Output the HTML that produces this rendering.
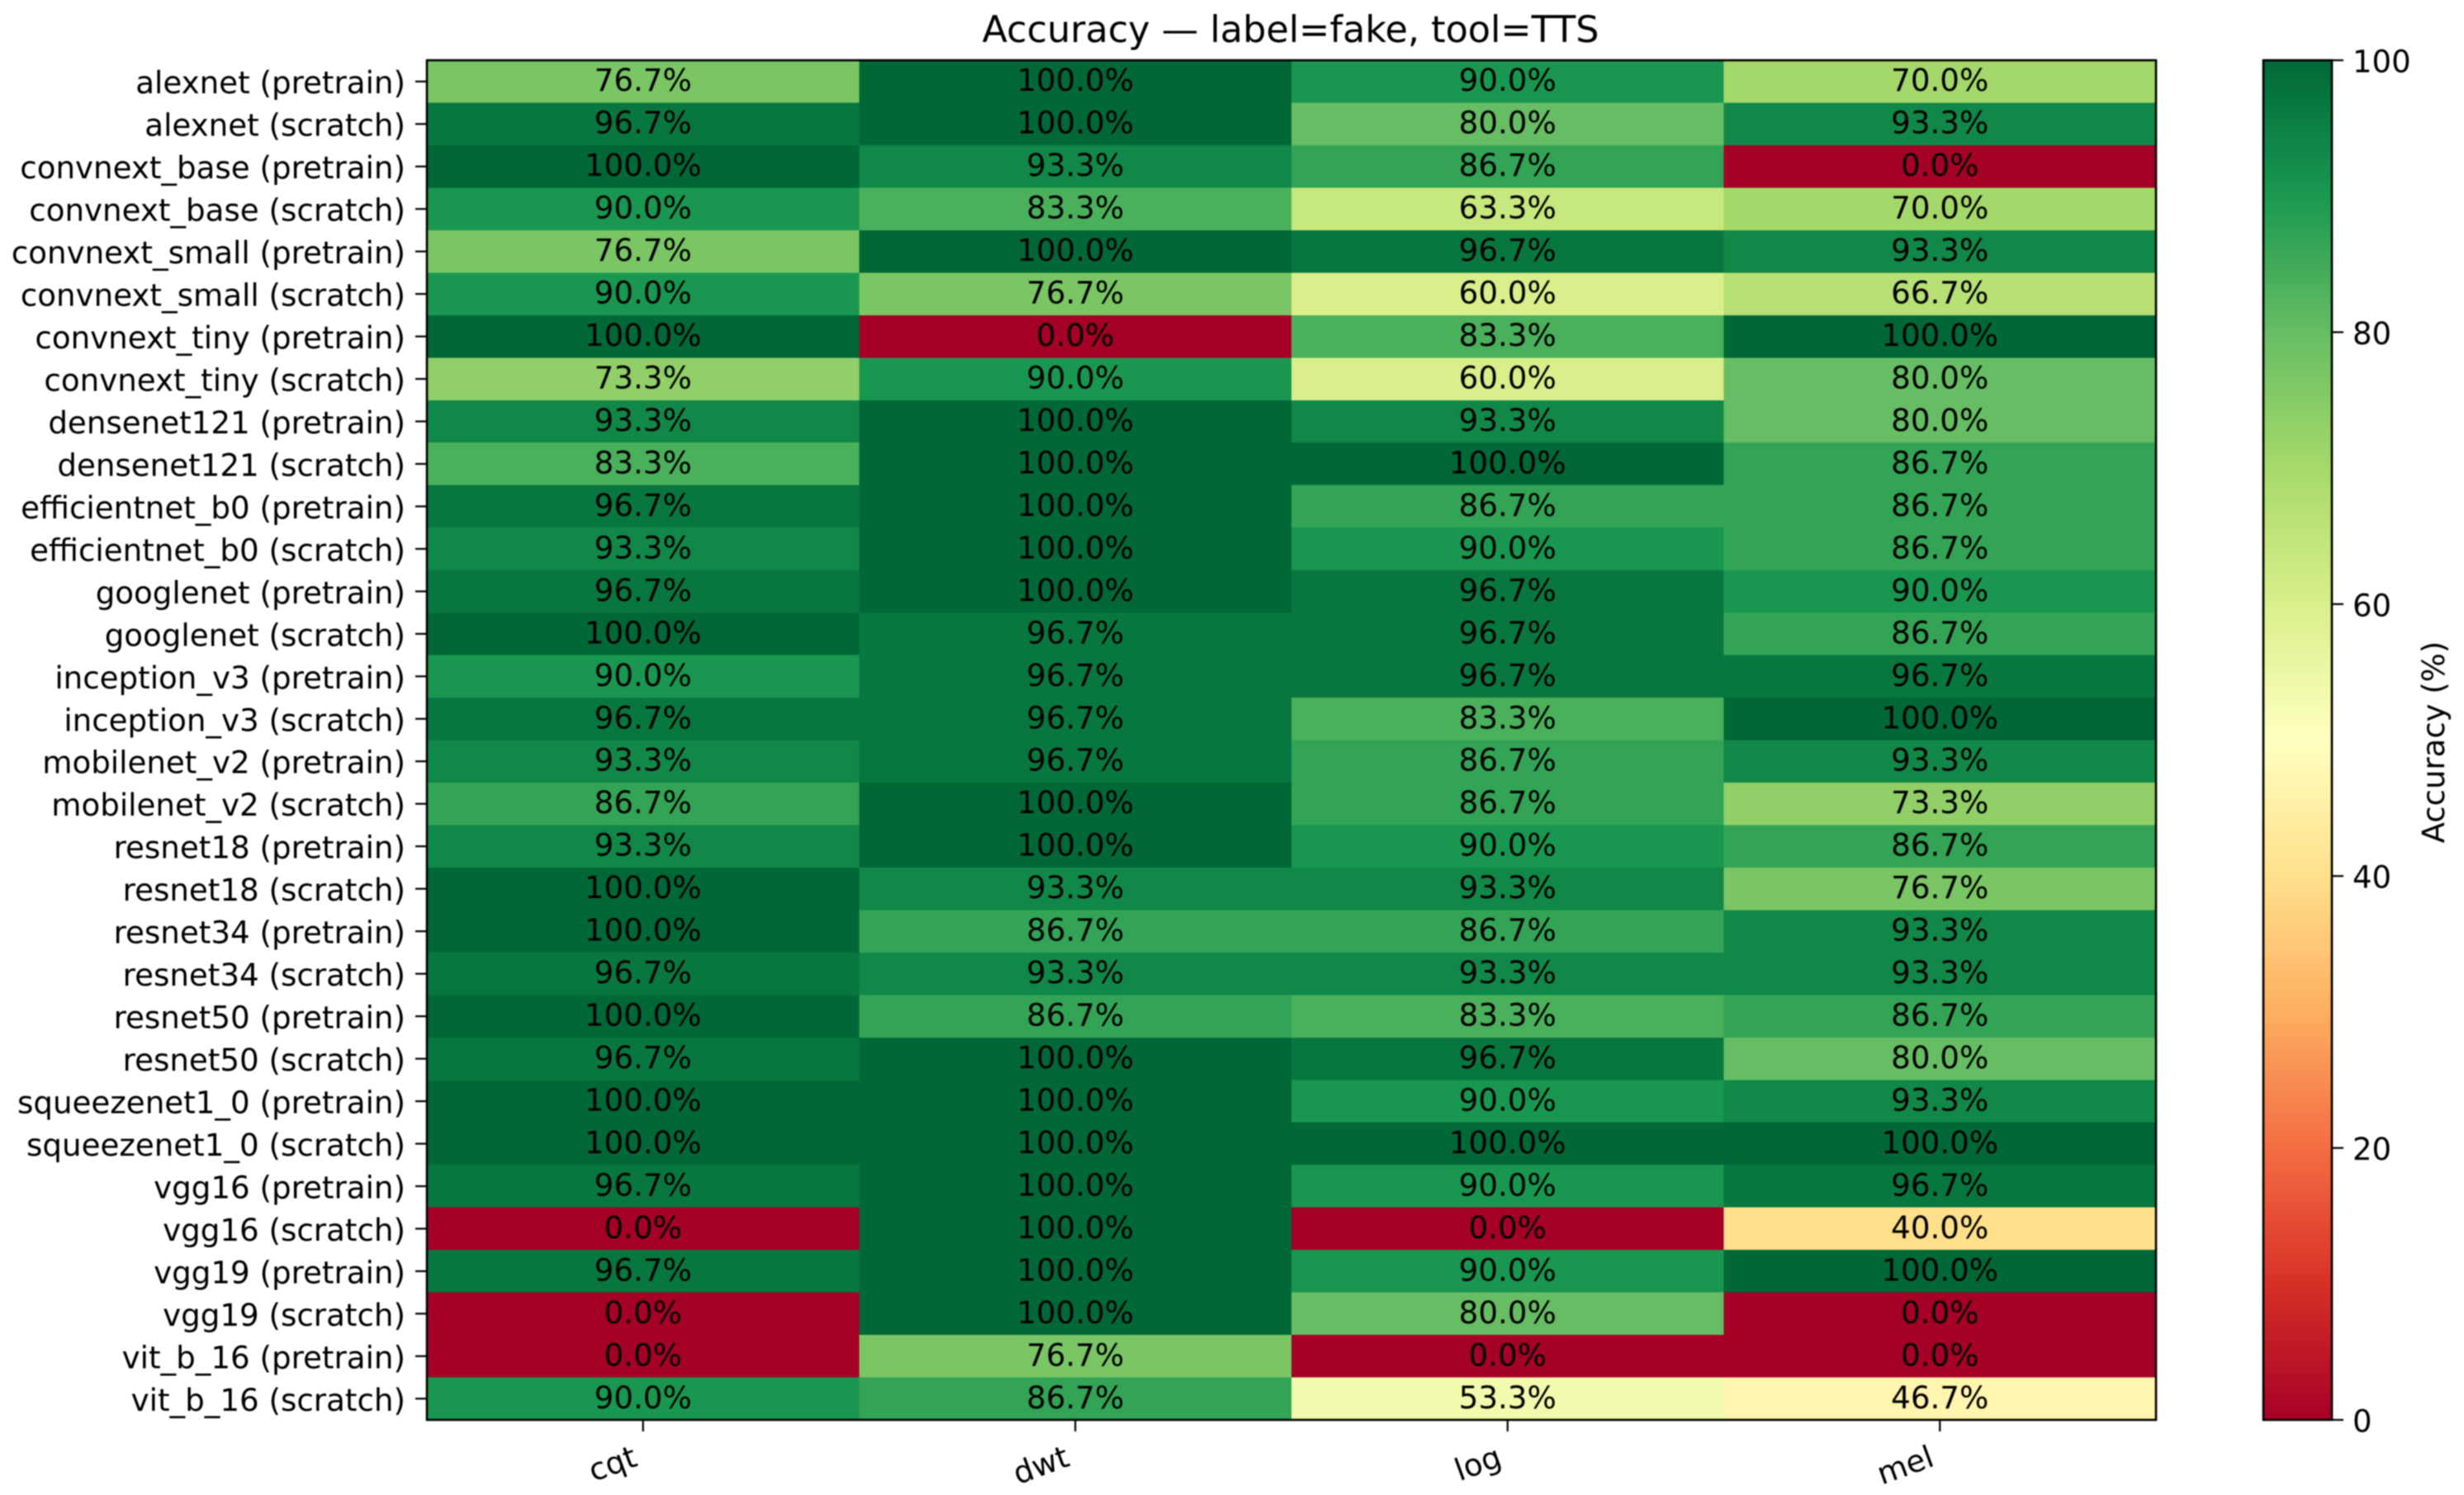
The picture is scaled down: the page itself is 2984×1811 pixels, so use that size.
<!DOCTYPE html>
<html lang="en">
<head>
<meta charset="utf-8">
<title>Accuracy — label=fake, tool=TTS</title>
<style>
html,body{margin:0;padding:0;background:#fff;}
#chart{display:block;filter:blur(0.9px);}
text{font-family:"DejaVu Sans","Liberation Sans",sans-serif;fill:#000;}
</style>
</head>
<body>
<svg id="chart" xmlns="http://www.w3.org/2000/svg" width="2984" height="1811" viewBox="0 0 2984 1811">
  <rect x="0" y="0" width="2984" height="1811" fill="#fff"></rect>
  <text x="1563" y="51" font-size="44.5" text-anchor="middle">Accuracy — label=fake, tool=TTS</text>
  <g id="cells" shape-rendering="crispEdges"></g>
  <g id="cellLabels"></g>
  <g id="yAxis"></g>
  <g id="xAxis"></g>
  <rect x="517" y="73" width="2094" height="1647" fill="none" stroke="#000" stroke-width="2.6"></rect>
  <defs><linearGradient id="cbGrad" x1="0" y1="1" x2="0" y2="0"></linearGradient></defs>
  <rect x="2741" y="73" width="83" height="1647" fill="url(#cbGrad)"></rect>
  <rect x="2741" y="73" width="83" height="1647" fill="none" stroke="#000" stroke-width="2.6"></rect>
  <g id="cbAxis"></g>
  <text transform="translate(2960,899) rotate(-90)" font-size="37" text-anchor="middle">Accuracy (%)</text>
</svg>
<script>
const models = [
  "alexnet (pretrain)","alexnet (scratch)","convnext_base (pretrain)","convnext_base (scratch)",
  "convnext_small (pretrain)","convnext_small (scratch)","convnext_tiny (pretrain)","convnext_tiny (scratch)",
  "densenet121 (pretrain)","densenet121 (scratch)","efficientnet_b0 (pretrain)","efficientnet_b0 (scratch)",
  "googlenet (pretrain)","googlenet (scratch)","inception_v3 (pretrain)","inception_v3 (scratch)",
  "mobilenet_v2 (pretrain)","mobilenet_v2 (scratch)","resnet18 (pretrain)","resnet18 (scratch)",
  "resnet34 (pretrain)","resnet34 (scratch)","resnet50 (pretrain)","resnet50 (scratch)",
  "squeezenet1_0 (pretrain)","squeezenet1_0 (scratch)","vgg16 (pretrain)","vgg16 (scratch)",
  "vgg19 (pretrain)","vgg19 (scratch)","vit_b_16 (pretrain)","vit_b_16 (scratch)"
];
const features = ["cqt","dwt","log","mel"];
const cqtValues = [76.7,96.7,100,90,76.7,90,100,73.3,93.3,83.3,96.7,93.3,96.7,100,90,96.7,93.3,86.7,93.3,100,100,96.7,100,96.7,100,100,96.7,0,96.7,0,0,90];
const dwtValues = [100,100,93.3,83.3,100,76.7,0,90,100,100,100,100,100,96.7,96.7,96.7,96.7,100,100,93.3,86.7,93.3,86.7,100,100,100,100,100,100,100,76.7,86.7];
const logValues = [90,80,86.7,63.3,96.7,60,83.3,60,93.3,100,86.7,90,96.7,96.7,96.7,83.3,86.7,86.7,90,93.3,86.7,93.3,83.3,96.7,90,100,90,0,90,80,0,53.3];
const melValues = [70,93.3,0,70,93.3,66.7,100,80,80,86.7,86.7,86.7,90,86.7,96.7,100,93.3,73.3,86.7,76.7,93.3,93.3,86.7,80,93.3,100,96.7,40,100,0,0,46.7];
const colorbarTicks = [0,20,40,60,80,100];
const rdYlGn = ["#a50026","#d73027","#f46d43","#fdae61","#fee08b","#ffffbf","#d9ef8b","#a6d96a","#66bd63","#1a9850","#006837"];

const seriesByFeature = [cqtValues, dwtValues, logValues, melValues];
const NS = "http://www.w3.org/2000/svg";
const plotLeft = 517, plotRight = 2611, plotTop = 73, plotBottom = 1720;
const cbRight = 2824;

function xEdge(c){ return plotLeft + c * (plotRight - plotLeft) / features.length; }
function yEdge(r){ return plotTop + r * (plotBottom - plotTop) / models.length; }
function xCenter(c){ return xEdge(c + 0.5); }
function yCenter(r){ return yEdge(r + 0.5); }
function cbY(v){ return plotBottom - (v / 100) * (plotBottom - plotTop); }

function hexToRgb(h){
  return [parseInt(h.slice(1,3),16), parseInt(h.slice(3,5),16), parseInt(h.slice(5,7),16)];
}
function colorFor(v){
  const level = Math.min(255, Math.max(0, Math.floor(v / 100 * 256))) / 255;
  const p = level * (rdYlGn.length - 1);
  const i = Math.min(rdYlGn.length - 2, Math.floor(p));
  const f = p - i;
  const a = hexToRgb(rdYlGn[i]), b = hexToRgb(rdYlGn[i + 1]);
  return "rgb(" + a.map(function(ch, k){ return Math.round(ch + (b[k] - ch) * f); }).join(",") + ")";
}
function make(tag, parent, attrs, content){
  const el = document.createElementNS(NS, tag);
  Object.keys(attrs).forEach(function(k){ el.setAttribute(k, attrs[k]); });
  if (content !== undefined) el.textContent = content;
  parent.appendChild(el);
  return el;
}

const cellsGroup = document.getElementById("cells");
const labelsGroup = document.getElementById("cellLabels");
const yAxisGroup = document.getElementById("yAxis");
const xAxisGroup = document.getElementById("xAxis");
const cbAxisGroup = document.getElementById("cbAxis");

seriesByFeature.forEach(function(series, c){
  series.forEach(function(v, r){
    const cell = make("rect", cellsGroup, {
      x: xEdge(c), y: yEdge(r), width: xEdge(c + 1) - xEdge(c), height: yEdge(r + 1) - yEdge(r), fill: colorFor(v)
    });
    
    
    const label = make("text", labelsGroup, {
      x: xCenter(c), y: yCenter(r) + 11.5, "font-size": 37.2, "text-anchor": "middle"
    }, v.toFixed(1) + "%");
    
    
  });
});

models.forEach(function(name, r){
  const tick = make("line", yAxisGroup, {
    x1: plotLeft - 14, x2: plotLeft, y1: yCenter(r), y2: yCenter(r), stroke: "#000", "stroke-width": 2.2
  });
  
  
  const label = make("text", yAxisGroup, {
    x: 491, y: yCenter(r) + 14.5, "font-size": 37.2, "text-anchor": "end"
  }, name);
  
  
});

features.forEach(function(name, c){
  const tick = make("line", xAxisGroup, {
    x1: xCenter(c), x2: xCenter(c), y1: plotBottom, y2: plotBottom + 14, stroke: "#000", "stroke-width": 2.2
  });
  
  
  const ax = xCenter(c) - 5, ay = 1775;
  const label = make("text", xAxisGroup, {
    x: ax, y: ay, "font-size": 37.2, "text-anchor": "end",
    transform: "rotate(-20 " + ax + " " + ay + ")"
  }, name);
  
  
});

const grad = document.getElementById("cbGrad");
rdYlGn.forEach(function(col, i){
  make("stop", grad, { offset: i / (rdYlGn.length - 1), "stop-color": col });
});

colorbarTicks.forEach(function(v){
  const tick = make("line", cbAxisGroup, {
    x1: cbRight, x2: cbRight + 14, y1: cbY(v), y2: cbY(v), stroke: "#000", "stroke-width": 2.2
  });
  
  
  const label = make("text", cbAxisGroup, {
    x: 2849, y: cbY(v) + 14.5, "font-size": 37
  }, String(v));
  
  
});
</script>
</body>
</html>
